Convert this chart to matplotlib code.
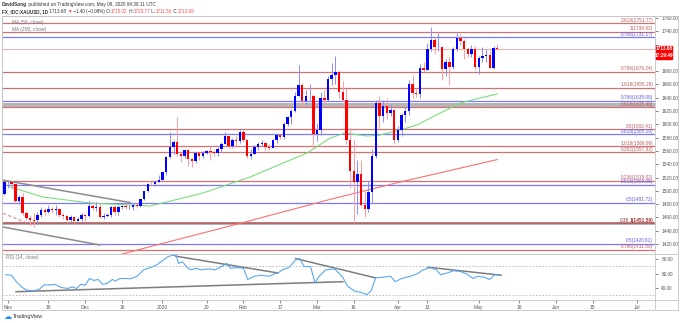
import numpy as np
import pandas as pd
import matplotlib
matplotlib.use("Agg")
import matplotlib.pyplot as plt
from matplotlib.patches import Rectangle
from matplotlib.lines import Line2D

plt.rcParams['font.family'] = ['Liberation Sans', 'DejaVu Sans']

# ── daily XAUUSD bars (no bars on Dec 25 / Jan 1) ─────────────
dates = pd.bdate_range("2019-10-31", "2020-05-08")
dates = dates[~dates.isin(pd.to_datetime(["2019-12-25", "2020-01-01"]))]

opens = np.array([
    1495, 1513, 1514, 1510, 1484, 1490, 1467, 1459, 1456, 1456,
    1463, 1471, 1468, 1472, 1471, 1473, 1464, 1462, 1456, 1461,
    1455, 1457, 1464, 1462, 1477, 1474, 1475, 1460, 1462, 1464,
    1475, 1468, 1476, 1477, 1475, 1475.5, 1478, 1477, 1487, 1499,
    1511, 1510, 1514, 1517, 1528, 1551, 1566, 1574, 1556, 1552,
    1562, 1548, 1545, 1557, 1552, 1557, 1560, 1558, 1557, 1563,
    1571, 1582, 1567, 1577, 1575, 1589, 1577, 1553, 1556, 1566,
    1570, 1572, 1566, 1565, 1576, 1584, 1581, 1601, 1611, 1620,
    1643, 1659, 1635, 1642, 1643, 1585, 1592, 1640, 1636, 1668,
    1674, 1679, 1649, 1636, 1576, 1530, 1513, 1526, 1478, 1472,
    1498, 1553, 1632, 1612, 1628, 1617, 1621, 1577, 1591, 1614,
    1620, 1661, 1647, 1645, 1684, 1681, 1714, 1727, 1716, 1717,
    1683, 1694, 1686, 1714, 1730, 1726, 1713, 1706, 1713, 1686,
    1700, 1702, 1705, 1685, 1715.02])
highs = np.array([
    1514, 1517, 1515, 1511, 1494, 1496, 1470, 1463, 1466, 1468,
    1475, 1474, 1478, 1476, 1478, 1474, 1467, 1464, 1463, 1462,
    1460, 1466, 1465, 1485, 1482, 1483, 1481, 1466, 1467, 1477,
    1479, 1479, 1479, 1481, 1479, 1481, 1481, 1488, 1499, 1512,
    1514, 1516, 1524, 1529, 1553, 1588, 1576, 1611, 1558, 1562,
    1563, 1550, 1557, 1558, 1560, 1561, 1567, 1561, 1566, 1574,
    1588, 1582, 1579, 1582, 1591, 1592, 1578, 1563, 1569, 1573,
    1576, 1573, 1570, 1578, 1585, 1586, 1604, 1612, 1623, 1649,
    1689, 1662, 1651, 1660, 1646, 1602, 1649, 1652, 1673, 1692,
    1703, 1681, 1665, 1655, 1594, 1576, 1547, 1546, 1500, 1517,
    1563, 1637, 1642, 1637, 1640, 1630, 1623, 1598, 1617, 1626,
    1666, 1674, 1655, 1690, 1694, 1722, 1747, 1732, 1738, 1718,
    1698, 1701, 1716, 1738, 1736, 1728, 1716, 1720, 1718, 1703,
    1716, 1713, 1712, 1718, 1720.77])
lows = np.array([
    1494, 1504, 1503, 1480, 1480, 1464, 1456, 1449, 1445, 1452,
    1460, 1463, 1466, 1467, 1463, 1461, 1457, 1452, 1453, 1452,
    1454, 1455, 1454, 1460, 1471, 1470, 1459, 1457, 1460, 1461,
    1463, 1464, 1472, 1473, 1472, 1471, 1474, 1476, 1486, 1498,
    1507, 1507, 1514, 1516, 1524, 1550, 1556, 1553, 1543, 1549,
    1537, 1536, 1542, 1547, 1550, 1556, 1546, 1553, 1552, 1559,
    1570, 1564, 1565, 1568, 1572, 1574, 1549, 1548, 1555, 1561,
    1567, 1562, 1562, 1564, 1572, 1578, 1578, 1598, 1601, 1618,
    1643, 1625, 1630, 1636, 1564, 1575, 1584, 1632, 1635, 1659,
    1660, 1640, 1635, 1570, 1505, 1451, 1465, 1476, 1460, 1468,
    1483, 1550, 1594, 1603, 1608, 1612, 1571, 1573, 1582, 1603,
    1614, 1640, 1641, 1640, 1678, 1681, 1711, 1706, 1711, 1667,
    1672, 1659, 1683, 1710, 1719, 1698, 1701, 1701, 1681, 1676,
    1693, 1694, 1684, 1683, 1711.56])
closes = np.array([
    1513, 1514, 1510, 1484, 1490, 1467, 1459, 1456, 1455, 1463,
    1471, 1468, 1472, 1471, 1473, 1464, 1462, 1456, 1461, 1455,
    1457, 1464, 1462, 1477, 1474, 1475, 1460, 1462, 1464, 1475,
    1468, 1476, 1477, 1475, 1475.5, 1478, 1477, 1487, 1499, 1511,
    1510, 1514, 1517, 1528, 1551, 1566, 1574, 1556, 1552, 1562,
    1548, 1545, 1557, 1552, 1557, 1560, 1558, 1557, 1563, 1571,
    1582, 1567, 1577, 1575, 1589, 1577, 1553, 1556, 1566, 1570,
    1572, 1566, 1565, 1576, 1584, 1581, 1601, 1611, 1620, 1643,
    1659, 1635, 1642, 1643, 1585, 1592, 1640, 1636, 1668, 1674,
    1679, 1649, 1636, 1576, 1530, 1513, 1526, 1478, 1472, 1498,
    1553, 1632, 1612, 1628, 1617, 1621, 1577, 1591, 1614, 1620,
    1661, 1647, 1645, 1684, 1681, 1714, 1727, 1716, 1717, 1683,
    1694, 1686, 1714, 1730, 1726, 1713, 1706, 1713, 1686, 1700,
    1702, 1705, 1685, 1715, 1713.68])
last_price = 1713.68

# moving averages (bar position, value)
ma50_bars = [1.5, 3.45, 10.5, 23.3, 34.2, 39.6, 54.0, 66.8, 75.8, 82.3, 88.6,
             92.6, 98.6, 102.1, 107.6, 112.2, 118.5, 123.9, 129.3, 134.0]
ma50_vals = [1506, 1502.7, 1490.7, 1481.7, 1478.6, 1477.1, 1496.7, 1520.8, 1541.8,
             1556.8, 1579.4, 1586.9, 1582.4, 1583.9, 1591.4, 1599.0, 1617.0,
             1632.0, 1639.5, 1645.6]
ma200_bars = [28.0, 39.6, 64.1, 88.6, 107.6, 134.0]
ma200_vals = [1399.0, 1416.0, 1451.1, 1487.2, 1513.2, 1547.0]

# RSI(14)
rsi_bars = [0.41, 1.94, 3.12, 4.89, 6.07, 7.84, 9.6, 10.78, 12.55, 13.73, 15.5,
            17.26, 18.44, 19.62, 20.8, 21.98, 23.16, 24.33, 25.51, 26.69, 27.87,
            29.4, 30.23, 31.4, 33.17, 34.35, 36.12, 37.89, 39.66, 41.42, 43.19,
            44.37, 45.55, 46.73, 47.32, 48.49, 49.67, 50.85, 52.03, 53.44, 55.56,
            57.33, 59.1, 60.51, 61.45, 63.22, 64.99, 66.17, 67.94, 69.71, 72.06,
            73.24, 74.42, 75.6, 77.37, 79.13, 80.31, 81.49, 83.26, 84.44, 85.62,
            87.38, 89.74, 90.92, 92.1, 93.28, 95.04, 96.81, 98.58, 99.76, 100.94,
            102.7, 105.06, 106.24, 108.01, 110.36, 112.13, 113.9, 115.67, 117.44,
            118.61, 120.38, 122.15, 123.92, 125.69, 127.45, 128.63, 130.4, 131.93,
            133.35, 134.53]
rsi_vals = [58.4, 57.6, 49.6, 40.7, 37.1, 36.2, 38.4, 44.2, 44.2, 45.1, 40.7,
            39.3, 41.6, 39.3, 45.1, 43.8, 53.1, 50.4, 51.8, 45.1, 46.0,
            51.8, 49.6, 53.1, 53.1, 52.7, 56.2, 65.1, 68.2, 71.8, 78.4,
            82.9, 85.0, 85.0, 74.0, 76.2, 68.2, 65.1, 67.3, 65.1, 66.4,
            65.1, 69.6, 74.0, 67.3, 68.2, 67.3, 51.8, 56.2, 57.6, 56.2,
            59.3, 60.7, 65.1, 68.2, 78.4, 80.7, 69.6, 69.6, 47.3, 56.2,
            65.1, 66.4, 60.7, 54.0, 42.9, 36.2, 34.0, 30.9, 36.2, 54.0,
            54.9, 56.2, 48.7, 53.1, 56.2, 59.3, 65.1, 68.2, 65.1,
            58.4, 60.7, 63.8, 62.9, 59.3, 53.1, 56.2, 54.9, 51.8,
            58.4, 57.6]

# fibonacci / horizontal levels
red_levels = [1751.77, 1738.92, 1679.24, 1655.29, 1625.40, 1592.41, 1566.99,
              1557.82, 1515.02, 1411.59]
red_labels = ["2.618(1751.77)", "1(1738.92)", "0.786(1679.24)", "1.618(1655.29)",
              "0.618(1625.40)", "0.5(1592.41)", "1.618(1566.99)", "0.382(1557.82)",
              "0.236(1515.02)", "0.786(1411.59)"]
blue_levels = [1731.17, 1635.08, 1585.20, 1509.08, 1481.72, 1420.61]
blue_labels = ["0.786(1731.17)", "0.786(1635.08)", "0.618(1585.20)",
               "0.618(1509.08)", "0.5(1481.72)", "0.5(1420.61)"]
gray_levels = [1630.3, 1628.2, 1449.9]
support_level = 1451.0
support_labels = ["0.38", "1(1451.59)"]

# drawn trendlines: (start bar, end bar), (start value, end value)
price_trend_bars = [(-0.63, 34.2), (-0.36, 26.0)]
price_trend_vals = [(1516.2, 1482.4), (1445.6, 1418.5)]
dashed_trend_bars = (-0.36, 7.5)
dashed_trend_vals = (1466.2, 1448.7)
rsi_trend_bars = [(46.5, 74.4), (3.1, 92.1), (79.1, 100.9), (115.1, 135.1)]
rsi_trend_vals = [(84.0, 60.7), (34.9, 48.7), (80.7, 54.0), (68.7, 57.6)]

xtick_bars = [1, 12, 22, 32, 43, 55, 65, 75, 85, 95, 107, 115, 129, 140, 150, 160, 172]
xtick_labels = ["Nov", "18", "Dec", "16", "2020", "20", "Feb", "17", "Mar", "16",
                "Apr", "13", "May", "18", "Jun", "15", "Jul"]
price_ticks = np.arange(1420, 1761, 20)

# ── figure layout (pixel based) ───────────────────────────────
W, H = 680, 323
fig = plt.figure(figsize=(W / 100, H / 100), dpi=100)


def fx(px):
    return px / W


def fy(py):
    return 1 - py / H


ax = fig.add_axes([fx(2), fy(254), fx(655) - fx(2), fy(16) - fy(254)])
rsi_ax = fig.add_axes([fx(2), fy(300), fx(655) - fx(2), fy(254) - fy(300)], sharex=ax)

SPINE = '#c4c4c4'
TXT = '#555555'
for a in (ax, rsi_ax):
    for s in a.spines.values():
        s.set_color(SPINE)
        s.set_linewidth(0.6)
    a.yaxis.tick_right()
    a.tick_params(axis='y', labelsize=3.4, colors=TXT, length=2, width=0.5, pad=2.5)

ax.set_xlim(-0.63, 176.9)
ax.set_ylim(1405.0, 1762.9)
rsi_ax.set_ylim(23.45, 86.9)

# horizontal levels
for lv in red_levels:
    ax.axhline(lv, color='#d07272', lw=0.9, zorder=1)
for lv in blue_levels:
    ax.axhline(lv, color='#7a7aff', lw=0.9, zorder=1)
for lv in gray_levels:
    ax.axhline(lv, color='#a8a8a8', lw=1.2, zorder=1)
ax.axhline(support_level, color='#b05050', lw=1.1, zorder=1)
ax.axhline(last_price, color='#f6a9a9', lw=0.7, zorder=1)

FIB_FS = 3.4
lab_x = 176.4
for lv, lb in zip(red_levels, red_labels):
    ax.text(lab_x, lv + 0.8, lb, ha='right', va='bottom', fontsize=FIB_FS, color='#c05a5a', zorder=6)
for lv, lb in zip(blue_levels, blue_labels):
    ax.text(lab_x, lv + 0.8, lb, ha='right', va='bottom', fontsize=FIB_FS, color='#5a5aee', zorder=6)
sup = ax.text(lab_x, support_level + 0.8, support_labels[1], ha='right', va='bottom',
              fontsize=FIB_FS, color='#a03030', fontweight='bold', zorder=6)
fig.canvas.draw()
sup_left = ax.transData.inverted().transform(
    (sup.get_window_extent(fig.canvas.get_renderer()).x0 - 0.5, 0))[0]
ax.text(sup_left, support_level + 0.8, support_labels[0], ha='right', va='bottom',
        fontsize=FIB_FS, color='#7a3030', zorder=6)

# moving averages
ax.plot(ma50_bars, ma50_vals, color='#7edc7e', lw=0.8, zorder=2)
ax.plot(ma200_bars, ma200_vals, color='#ff6f6f', lw=0.8, zorder=2)

# trendlines
for bx, vy in zip(price_trend_bars, price_trend_vals):
    ax.plot(bx, vy, color='#8c8c8c', lw=1.1, zorder=2, solid_capstyle='round')
ax.plot(dashed_trend_bars, dashed_trend_vals, color='#e08a8a', lw=0.8,
        ls=(0, (3, 2)), zorder=2)

# candles
x = np.arange(len(closes))
up = closes >= opens
wick_col = np.where(up, '#8c8cff', '#ff9c9c')
body_col = np.where(up, '#0000ff', '#ff0000')
ax.vlines(x, lows, highs, colors=wick_col, lw=0.7, zorder=3)
ax.bar(x, np.maximum(np.abs(closes - opens), 0.9), bottom=np.minimum(opens, closes),
       width=0.66, color=body_col, lw=0, zorder=4)

# the 1700/1720 labels sit under the last-price boxes, so they stay blank
ax.set_yticks(price_ticks)
ax.set_yticklabels(["" if v in (1700, 1720) else f"{v:.2f}" for v in price_ticks])
ax.tick_params(axis='x', which='both', bottom=False, labelbottom=False)

ax.text(2.0, 1752.5, "MA (50, close)", fontsize=3.5, color='#777777', va='center', zorder=6)
ax.text(2.0, 1743.0, "MA (200, close)", fontsize=3.5, color='#777777', va='center', zorder=6)

# RSI pane
rsi_ax.plot(rsi_bars, rsi_vals, color='#5aa8f5', lw=0.8, zorder=3)
for lv in (70, 30):
    rsi_ax.axhline(lv, color='#b5b5b5', lw=0.6, ls=(0, (2, 2)), zorder=1)
for bx, vy in zip(rsi_trend_bars, rsi_trend_vals):
    rsi_ax.plot(bx, vy, color='#7d7d7d', lw=1.1, zorder=2, solid_capstyle='round')
rsi_ax.set_yticks([40, 60, 80])
rsi_ax.set_yticklabels(["40.00", "60.00", "80.00"])
rsi_ax.set_xticks(xtick_bars)
rsi_ax.set_xticklabels(xtick_labels)
rsi_ax.tick_params(axis='x', labelsize=3.6, colors=TXT, length=2, width=0.5, pad=1.5)
rsi_ax.text(0.5, 81.5, "RSI (14, close)", fontsize=3.5, color='#777777', va='center')

# outer frame and price-scale separators
fig.add_artist(Rectangle((fx(2), fy(310)), fx(678) - fx(2), fy(16) - fy(310),
                         transform=fig.transFigure, fill=False, ec=SPINE, lw=0.6))
for yy in (254, 300):
    fig.add_artist(Line2D([fx(655), fx(678)], [fy(yy), fy(yy)], color=SPINE, lw=0.6))
fig.add_artist(Line2D([fx(655), fx(655)], [fy(300), fy(310)], color=SPINE, lw=0.6))

# last price / countdown boxes on the price scale
for top, txt in ((45.5, f"{last_price:.2f}"), (52.5, "17:29:49")):
    fig.add_artist(Rectangle((fx(656), fy(top + 6.5)), fx(672) - fx(656), fy(top) - fy(top + 6.5),
                             transform=fig.transFigure, color='#ff0000', zorder=10))
    fig.text(fx(664), fy(top + 3.3), txt, fontsize=3.3, color='white', ha='center',
             va='center', zorder=11, fontweight='bold')

# header lines
renderer = fig.canvas.get_renderer()


def chain(parts, x0, y0, size):
    xpix = x0
    for s, color, weight in parts:
        t = fig.text(fx(xpix), fy(y0), s, fontsize=size, color=color,
                     fontweight=weight, va='center', ha='left')
        xpix += t.get_window_extent(renderer).width


DARK = '#333333'
RED = '#ff4a4a'
chain([("DavidSong", DARK, 'bold'),
       (" published on TradingView.com, May 08, 2020 04:30:11 UTC", DARK, 'normal')],
      2, 4.5, 3.4)
chain([("FX_IDC:XAUUSD, 1D", DARK, 'bold'), (" 1713.68 ", DARK, 'normal'),
       ("▼", RED, 'normal'), (" −1.40 (−0.08%) O:", DARK, 'normal'),
       ("1715.02", RED, 'normal'), (" H:", DARK, 'normal'), ("1720.77", RED, 'normal'),
       (" L:", DARK, 'normal'), ("1711.56", RED, 'normal'), (" C:", DARK, 'normal'),
       ("1713.68", RED, 'normal')], 2, 11.5, 3.35)

# TradingView mark
fig.text(fx(3.5), fy(316.5), "☁", fontsize=6, color='#2196f3', va='center', ha='left',
         family=['DejaVu Sans'])
fig.text(fx(13), fy(316.5), "TradingView", fontsize=4.0, color='#333333', va='center', ha='left')

fig.savefig("out.png", dpi=100)
